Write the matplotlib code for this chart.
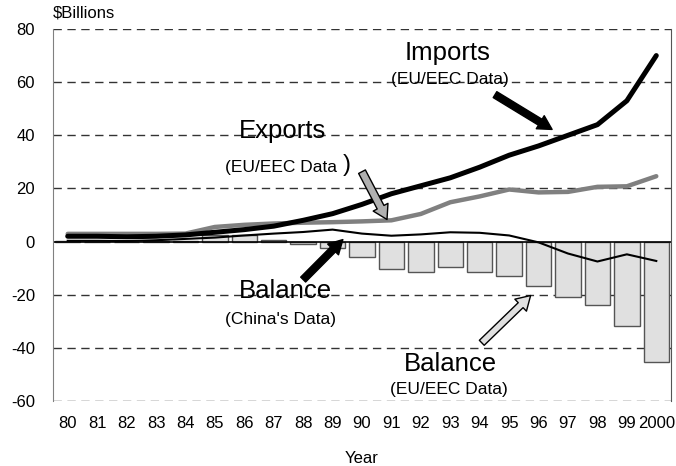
import matplotlib
matplotlib.use("Agg")
import matplotlib.pyplot as plt
import numpy as np

plt.rcParams['font.family'] = ['Liberation Sans', 'DejaVu Sans']
plt.rcParams['axes.unicode_minus'] = False

# data ($ billions)
years = ['80', '81', '82', '83', '84', '85', '86', '87', '88', '89', '90',
         '91', '92', '93', '94', '95', '96', '97', '98', '99', '2000']
imports_eu = [2.0, 2.0, 1.8, 2.0, 2.5, 3.5, 4.5, 5.8, 8.0, 10.5, 14.0,
              18.0, 21.0, 24.0, 28.0, 32.5, 36.0, 40.0, 44.0, 53.0, 70.0]
exports_eu = [2.9, 2.9, 2.9, 2.9, 3.0, 5.5, 6.3, 6.8, 7.1, 7.3, 7.6,
              8.0, 10.4, 14.8, 17.0, 19.6, 18.5, 18.7, 20.6, 20.8, 24.6]
balance_eu = [0.3, -0.3, -0.2, 0.2, 0.3, 2.3, 2.3, 0.5, -0.9, -2.6, -5.9,
              -10.5, -11.4, -9.4, -11.4, -13.0, -16.9, -21.0, -23.8, -31.9, -45.2]
balance_china = [0.3, 0.3, 0.2, 0.5, 1.0, 1.5, 2.3, 3.0, 3.6, 4.5, 3.0,
                 2.2, 2.7, 3.5, 3.3, 2.3, -0.3, -4.5, -7.5, -4.8, -7.3]

x = np.arange(len(years))

fig = plt.figure(figsize=(6.76, 4.66), dpi=100)
ax = fig.add_axes([53/676, 1-401/466, 618/676, 372/466])

# grid
for g in [80, 60, 40, 20, -20, -40, -60]:
    ax.axhline(g, color='#333333', lw=1, ls=(0, (6, 4)), zorder=0)

ax.bar(x, balance_eu, width=0.86, color='#e0e0e0', edgecolor='#555555',
       linewidth=1, zorder=1)
ax.axhline(0, color='black', lw=1.2, zorder=2)

ax.plot(x, exports_eu, color='#808080', lw=3.2, solid_capstyle='round', zorder=3)
ax.plot(x, imports_eu, color='black', lw=3.6, solid_capstyle='round', zorder=4)
ax.plot(x, balance_china, color='black', lw=1.5, zorder=5)

ax.set_xlim(-0.5, len(years)-0.5)
ax.set_ylim(-60, 80)
ax.set_yticks([80, 60, 40, 20, 0, -20, -40, -60])
ax.set_xticks(x)
ax.set_xticklabels(years)
ax.tick_params(axis='both', length=0, labelsize=12)
ax.tick_params(axis='x', pad=11)
ax.tick_params(axis='y', pad=13)
ax.set_xlabel('Year', fontsize=12, labelpad=14)

ax.spines['top'].set_visible(False)
ax.spines['bottom'].set_visible(False)
ax.spines['left'].set_color('#808080')
ax.spines['right'].set_color('#555555')

fig.text(53/676, 1-13/466, '$Billions', fontsize=12, va='center', ha='left')

# labels
big, small = 18.5, 12.5
ax.text(12.9, 71.1, 'Imports', fontsize=big, ha='center', va='center', zorder=6)
ax.text(13.0, 61.0, '(EU/EEC Data)', fontsize=small, ha='center', va='center', zorder=6)
ax.text(7.3, 41.5, 'Exports', fontsize=big, ha='center', va='center', zorder=6)
ax.text(7.25, 28.0, '(EU/EEC Data', fontsize=small, ha='center', va='center', zorder=6)
ax.text(9.5, 28.7, ')', fontsize=17, ha='center', va='center', zorder=6)
ax.text(7.4, -18.7, 'Balance', fontsize=big, ha='center', va='center', zorder=6)
ax.text(7.24, -29.2, "(China's Data)", fontsize=small, ha='center', va='center', zorder=6)
ax.text(13.0, -46.0, 'Balance', fontsize=big, ha='center', va='center', zorder=6)
ax.text(12.95, -55.8, '(EU/EEC Data)', fontsize=small, ha='center', va='center', zorder=6)

# arrows
def arrow(tail, head, fc, ec, tw=0.5, hw=1.2, hl=1.0):
    ax.annotate('', xy=head, xytext=tail, zorder=7,
                arrowprops=dict(arrowstyle='simple,head_width=%s,head_length=%s,tail_width=%s' % (hw, hl, tw),
                                fc=fc, ec=ec, lw=1, shrinkA=0, shrinkB=0,
                                mutation_scale=10))

arrow((14.52, 55.3), (16.46, 42.2), 'black', 'black', tw=0.5, hw=1.1, hl=1.0)
arrow((10.0, 26.3), (10.85, 8.3), '#b0b0b0', 'black', tw=0.55, hw=1.2, hl=1.0)
arrow((8.0, -14.3), (9.35, 0.75), 'black', 'black', tw=0.5, hw=1.1, hl=1.0)
arrow((14.07, -38.1), (15.73, -20.3), '#e0e0e0', 'black', tw=0.5, hw=1.2, hl=1.0)

fig.savefig('out.png', dpi=100)
